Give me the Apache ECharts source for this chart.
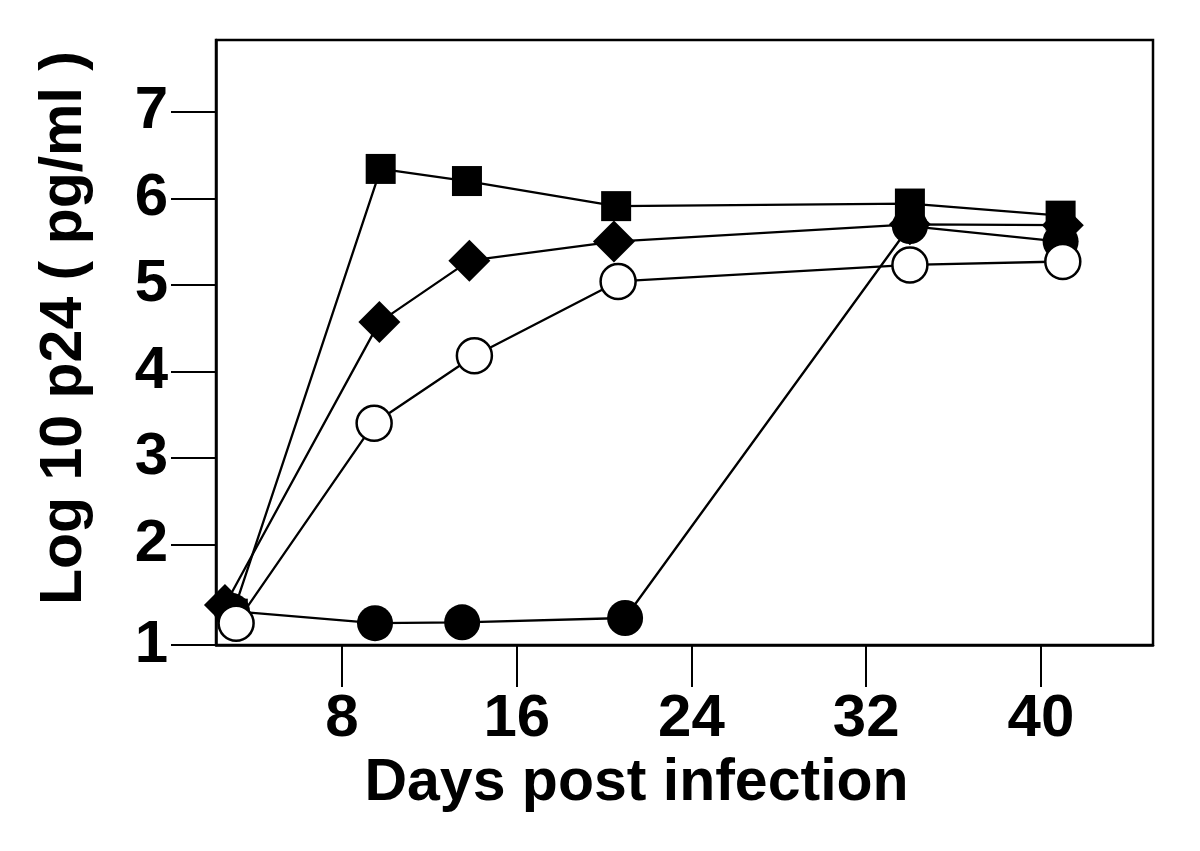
<!DOCTYPE html>
<html>
<head>
<meta charset="utf-8">
<script src="https://cdn.jsdelivr.net/npm/echarts@6/dist/echarts.min.js"></script>
<style>html,body{margin:0;padding:0;background:#fff;}#chart{width:1200px;height:851px;}</style>
</head>
<body>
<div id="chart"></div>
<script>
// Days post infection (read per series; markers are slightly offset in the original)
const squareDays   = [3.0, 9.77, 13.72, 20.55, 34.0, 40.9];
const squareVals   = [1.20, 6.34, 6.20, 5.91, 5.94, 5.80];
const diamondDays  = [2.64, 9.71, 13.83, 20.45, 34.0, 41.0];
const diamondVals  = [1.30, 4.57, 5.28, 5.50, 5.70, 5.69];
const filledDays   = [2.96, 9.51, 13.5, 20.96, 34.0, 40.9];
const filledVals   = [1.23, 1.09, 1.10, 1.15, 5.68, 5.50];
const openDays     = [3.15, 9.47, 14.06, 20.64, 34.0, 41.0];
const openVals     = [1.09, 3.40, 4.18, 5.04, 5.23, 5.27];

const xTickValues = [8, 16, 24, 32, 40];
const yTickValues = [0.838, 2, 3, 4, 5, 6, 7];
const yTickLabels = ['1', '2', '3', '4', '5', '6', '7'];

const xTitle = 'Days post infection';
const yTitle = 'Log 10 p24 ( pg/ml )';

const pairs = (xs, ys) => xs.map((x, i) => [x, ys[i]]);

const groups = [
  {name: 'square',  data: pairs(squareDays, squareVals),  symbol: 'rect',    size: 30, fill: '#000', z: 4},
  {name: 'diamond', data: pairs(diamondDays, diamondVals), symbol: 'diamond', size: 42, fill: '#000', z: 3},
  {name: 'filled',  data: pairs(filledDays, filledVals),  symbol: 'circle',  size: 36, fill: '#000', z: 5},
  {name: 'open',    data: pairs(openDays, openVals),      symbol: 'circle',  size: 35, fill: '#fff', z: 6}
];

const series = [];
groups.forEach(g => {
  series.push({
    type: 'line', name: g.name + '-line', data: g.data, symbol: 'none',
    lineStyle: {color: '#000', width: 2.3}, z: 2, silent: true
  });
});
groups.forEach(g => {
  series.push({
    type: 'scatter', name: g.name, data: g.data, symbol: g.symbol, symbolSize: g.size,
    itemStyle: {color: g.fill, borderColor: '#000', borderWidth: g.fill === '#fff' ? 2.5 : 0, opacity: 1},
    z: g.z
  });
});

const chart = echarts.init(document.getElementById('chart'), null, {renderer: 'canvas'});
const fontFam = '"Liberation Sans", Arial, Helvetica, sans-serif';
chart.setOption({
  animation: false,
  backgroundColor: '#fff',
  grid: {left: 216, right: 47, top: 40, bottom: 206, show: true, borderColor: '#000', borderWidth: 2.5, backgroundColor: 'transparent'},
  xAxis: {
    type: 'value', min: 2.23, max: 45.13,
    splitLine: {show: false},
    axisLine: {show: true, lineStyle: {color: '#000', width: 2.5}},
    axisTick: {show: true, length: 42, customValues: xTickValues, lineStyle: {color: '#000', width: 2}},
    axisLabel: {customValues: xTickValues, margin: 44, color: '#000', fontSize: 60, fontWeight: 'bold', fontFamily: fontFam},
    name: xTitle, nameLocation: 'middle', nameGap: 98,
    nameTextStyle: {color: '#000', fontSize: 59, fontWeight: 'bold', fontFamily: fontFam, padding: [0, 96, 0, 0]}
  },
  yAxis: {
    type: 'value', min: 0.838, max: 7.83,
    splitLine: {show: false},
    axisLine: {show: true, lineStyle: {color: '#000', width: 2.5}},
    axisTick: {show: true, length: 45, customValues: yTickValues, lineStyle: {color: '#000', width: 2}},
    axisLabel: {
      customValues: yTickValues, margin: 48, color: '#000', fontSize: 60, fontWeight: 'bold', fontFamily: fontFam,
      formatter: v => yTickLabels[yTickValues.indexOf(v)] ?? String(Math.round(v))
    },
    name: yTitle, nameLocation: 'middle', nameGap: 122,
    nameTextStyle: {color: '#000', fontSize: 59, fontWeight: 'bold', fontFamily: fontFam, padding: [0, 0, 0, 29]}
  },
  series: series
});
</script>
</body>
</html>
